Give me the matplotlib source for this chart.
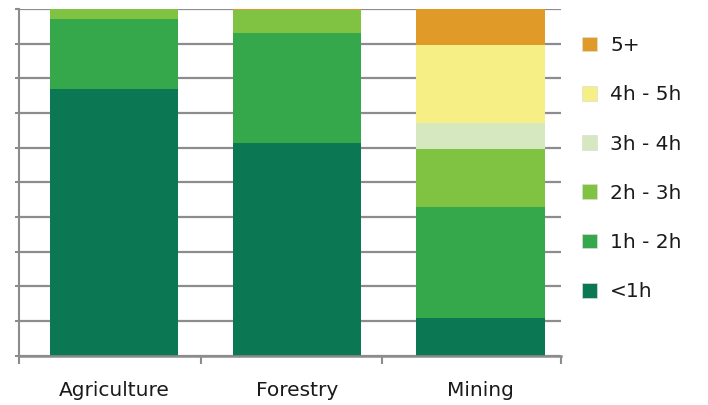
import matplotlib
matplotlib.use("Agg")
import matplotlib.pyplot as plt
from matplotlib.patches import Patch
import numpy as np

categories = ["Agriculture", "Forestry", "Mining"]
series_names = ["<1h", "1h - 2h", "2h - 3h", "3h - 4h", "4h - 5h", "5+"]
lt1h = [76.9, 61.3, 10.9]
h1_2 = [20.2, 31.8, 31.9]
h2_3 = [2.9, 6.5, 16.8]
h3_4 = [0.0, 0.2, 7.5]
h4_5 = [0.0, 0.0, 22.5]
h5p = [0.0, 0.2, 10.4]
colors = ["#0B7753", "#34A84A", "#80C342", "#D6E8C0", "#F6EF86", "#E09A27"]

series = [lt1h, h1_2, h2_3, h3_4, h4_5, h5p]

fs = 14.5
fig = plt.figure(figsize=(7.08, 4.05), dpi=100)
ax = fig.add_axes([19/708, 1-355.5/405, (561-19)/708, (355.5-9)/405])

x = np.arange(len(categories))
bottom = np.zeros(len(categories))
for vals, c, name in zip(series, colors, series_names):
    ax.bar(x, vals, bottom=bottom, width=0.70, color=c, label=name, zorder=3, linewidth=0)
    bottom += np.array(vals)

grid_c = "#8C8C8E"
ax.set_ylim(0, 100)
ax.set_xlim(-0.52, 2.44)
ax.set_yticks(np.arange(0, 101, 10))
ax.set_yticklabels([])
ax.yaxis.grid(True, color=grid_c, linewidth=1.6, zorder=1)
ax.tick_params(axis="y", length=3, width=1.5, color=grid_c)
ax.set_xticks(x)
ax.set_xticklabels(categories, fontsize=fs, color="#1a1a1a")
ax.tick_params(axis="x", length=0, pad=18.5)
ax.set_xticks([-0.52, 0.475, 1.465, 2.44], minor=True)
ax.tick_params(axis="x", which="minor", length=6, width=1.5, color=grid_c)
for s in ["top", "right"]:
    ax.spines[s].set_visible(False)
ax.spines["left"].set_color(grid_c)
ax.spines["left"].set_linewidth(1.5)
ax.spines["bottom"].set_color(grid_c)
ax.spines["bottom"].set_linewidth(1.8)
ax.spines["bottom"].set_zorder(4)

handles = [Patch(facecolor=c, edgecolor="#dddddd", linewidth=0.5) for c in colors][::-1]
labels = series_names[::-1]
fig.legend(handles, labels, loc="upper left", bbox_to_anchor=(564/708, 1-18/405),
           frameon=False, fontsize=fs, handlelength=0.75, handleheight=0.75,
           labelspacing=1.5, handletextpad=0.65, labelcolor="#1a1a1a")

fig.savefig("out.png", dpi=100)
